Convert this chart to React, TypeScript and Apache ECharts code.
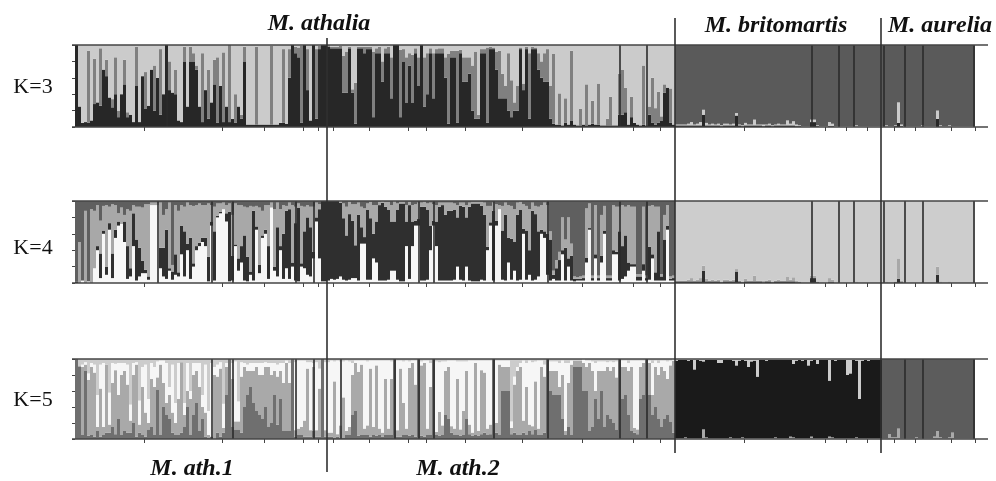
import React, { useEffect, useRef } from "react";
import * as echarts from "echarts";

// K=3, M. athalia part (200 individuals)
const k3Dark = [
  100,25,5,6,5,8,28,30,26,70, 62,36,24,40,12,40,52,12,15,6,
  50,6,62,22,26,70,20,60,15,40, 100,45,42,40,8,6,80,25,80,80,
  70,25,6,45,10,30,52,5,50,6, 25,6,10,5,25,10,80,3,3,3,
  3,3,3,3,3,3,3,3,5,5, 4,60,100,90,85,5,100,45,8,100,
  10,95,100,100,98,96,96,96,96,42, 42,96,42,4,96,96,90,95,95,12,
  90,90,55,90,90,35,100,100,12,80, 30,75,30,90,50,100,25,40,90,35,
  90,90,90,60,4,85,85,5,90,55, 55,65,20,10,10,90,90,5,95,95,
  70,35,35,35,20,12,20,20,95,45, 95,10,95,95,70,60,55,55,10,4,
  3,3,2,5,3,8,3,2,2,3, 2,3,4,3,3,2,2,2,2,2,
  2,15,15,18,3,12,5,3,2,3, 2,15,5,3,5,8,42,48,5,3,
];
const k3Mid = [
  0,0,0,0,88,0,55,0,70,0, 20,0,10,45,8,0,30,6,0,0,
  48,0,0,45,0,0,55,0,80,0, 0,35,0,30,0,0,18,0,18,10,
  5,0,84,0,60,0,30,80,0,85, 0,94,0,35,0,5,18,0,0,0,
  95,0,0,0,0,96,0,0,0,90, 0,35,0,8,12,94,0,50,0,0,
  85,4,0,0,2,2,2,2,3,45, 50,2,4,50,2,2,8,3,3,80,
  6,8,25,6,8,50,0,0,82,15, 55,15,58,6,35,0,60,50,6,55,
  5,6,6,25,85,8,8,88,4,30, 30,20,55,82,5,5,5,92,3,2,
  22,58,30,15,70,45,10,30,2,8, 3,80,3,2,20,20,35,40,40,85,
  0,38,0,30,0,85,0,0,20,0, 50,0,28,0,50,0,0,8,35,0,
  0,50,55,30,0,25,0,0,0,72, 0,10,55,20,38,5,10,0,42,0,
];

// M. britomartis + M. aurelia part (100 individuals), small bottom slivers
const rightDark = [
  2,2,2,2,2,2,2,2,2,15, 2,2,2,2,2,1,2,2,2,2,
  14,2,1,2,2,2,2,2,2,1, 2,2,1,2,2,2,2,2,2,2,
  1,1,0,0,0,6,6,1,0,0, 0,1,1,0,0,0,0,0,0,0,
  0,0,0,0,0,0,0,0,0,0, 0,0,0,1,5,1,0,0,0,0,
  0,0,0,0,0,0,0,10,0,0, 0,0,0,0,0,0,0,0,0,0,
];
const rightSpike = [
  1,1,1,1,2,4,1,2,4,6, 3,1,2,1,2,1,2,2,1,2,
  3,1,1,3,1,1,7,1,1,2, 1,2,1,1,2,1,1,6,2,5,
  2,1,1,1,1,3,3,1,1,1, 1,5,3,1,1,1,1,1,1,1,
  2,1,1,1,1,1,1,1,1,1, 2,1,1,1,25,2,1,1,1,1,
  1,1,2,1,1,1,1,10,2,1, 1,2,1,1,1,1,1,1,1,1,
];

// K=4, M. athalia part
const k4White = [
  0,0,3,0,2,0,18,40,6,60, 10,65,6,55,70,72,50,5,8,45,
  3,8,12,12,4,95,95,95,18,8, 5,15,4,10,8,35,8,40,5,20,
  40,45,50,45,2,70,3,80,85,90, 75,2,3,45,15,25,3,2,10,3,
  65,12,55,60,5,92,15,8,40,5, 18,5,20,3,2,20,18,10,8,30,
  75,30,2,2,3,5,4,5,8,4, 3,4,6,6,3,48,48,4,4,30,
  25,3,3,3,4,15,15,4,2,2, 45,5,45,70,70,3,3,4,40,70,
  45,3,3,3,3,3,4,20,4,3, 20,3,2,2,2,4,3,40,70,3,
  70,90,4,3,25,4,15,3,4,60, 4,10,3,4,8,60,55,10,3,5,
  3,3,35,3,20,3,2,3,3,3, 25,65,3,30,3,25,60,3,3,35,
  35,3,5,8,15,20,20,3,3,15, 3,4,30,3,3,3,3,65,3,3,
];
const k4Dark = [
  2,0,0,0,0,0,0,5,30,4, 10,8,30,10,5,0,25,40,10,40,
  50,35,15,4,4,0,0,0,25,35, 60,3,10,25,5,35,55,8,50,4,
  5,4,5,10,30,5,60,2,2,0, 10,85,30,2,15,20,55,30,4,85,
  4,10,3,5,40,0,5,60,5,55, 70,85,5,70,90,4,45,70,60,8,
  5,60,98,98,97,95,96,95,90,75, 55,80,70,40,80,20,8,85,75,30,
  50,92,95,90,85,60,60,85,95,95, 30,90,30,6,8,90,90,85,30,6,
  30,90,92,80,85,85,85,60,90,90, 60,90,95,95,95,90,80,4,4,85,
  6,0,60,80,30,50,35,80,85,6, 60,30,85,80,55,5,8,50,50,5,
  15,25,5,40,10,30,3,2,2,3, 6,2,3,5,3,8,4,3,3,5,
  3,60,40,50,10,3,3,5,5,8, 3,40,5,10,60,5,50,5,2,3,
];
const k4Light = [
  0,50,0,88,0,90,70,50,40,30, 75,20,60,30,10,20,8,45,70,10,
  40,50,65,80,88,3,3,3,55,40, 25,80,8,60,75,25,30,50,40,70,
  50,48,40,40,65,20,30,15,10,8, 10,10,50,50,65,50,35,60,80,5,
  25,70,30,30,50,6,70,30,45,35, 6,8,70,20,5,70,30,15,25,55,
  18,6,0,0,0,0,0,0,2,18, 35,15,20,50,15,25,35,8,20,35,
  20,4,2,6,10,20,25,8,2,2, 20,4,20,20,20,5,6,8,28,20,
  20,5,3,15,10,10,8,15,4,5, 15,5,2,2,2,5,15,50,20,10,
  20,5,30,15,40,40,40,15,10,30, 30,50,10,10,30,30,35,35,10,5,
  10,10,40,10,50,15,3,2,3,3, 60,30,3,60,3,50,30,3,3,55,
  55,30,50,35,70,70,70,3,3,70, 3,50,60,80,30,3,30,25,3,3,
];

// K=5, M. athalia part
const k5Grey = [
  100,90,5,85,4,5,3,10,3,5, 8,8,15,6,25,5,10,8,8,20,
  3,8,5,3,12,15,5,62,5,40, 30,25,8,5,5,8,15,40,5,30,
  45,10,25,3,2,3,0,8,3,8, 55,100,15,12,12,8,40,55,65,45,
  35,30,25,40,15,20,55,18,50,10, 10,10,100,3,5,5,3,3,3,10,
  3,3,100,3,3,3,2,3,2,2, 5,5,30,35,4,5,5,5,3,5,
  4,5,3,5,5,5,100,3,3,5, 5,4,5,3,100,4,3,5,5,100,
  5,4,5,30,25,8,5,5,4,5, 25,6,4,5,4,6,8,5,6,100,
  8,5,60,60,60,6,8,5,5,8, 5,10,6,12,5,5,8,100,60,55,
  55,55,25,5,15,5,90,90,90,60, 60,10,15,50,25,60,15,30,25,20,
  12,100,50,55,30,10,8,6,50,55, 100,55,30,40,25,15,25,30,22,8,
];
const k5Mid = [
  0,2,85,8,70,85,80,5,60,10, 85,10,55,80,30,75,75,60,15,60,
  90,10,60,30,8,60,60,15,88,30, 15,30,25,15,45,88,15,20,45,50,
  40,55,15,30,3,0,80,70,85,6, 35,0,60,10,10,70,50,30,20,40,
  55,50,55,50,75,60,30,60,35,60, 85,60,0,8,8,10,20,85,8,80,
  8,60,0,8,5,5,70,3,15,50, 5,10,50,60,80,88,8,12,85,10,
  88,8,5,70,8,70,0,8,85,40, 8,85,90,65,0,88,92,8,60,0,
  4,30,12,55,65,8,8,70,8,30, 60,12,4,90,6,80,75,8,12,0,
  12,88,30,30,30,8,60,80,85,15, 60,8,10,60,8,85,70,0,25,30,
  30,10,55,5,55,88,8,8,8,35, 30,85,70,10,60,25,70,60,60,70,
  65,0,40,35,55,80,6,6,40,40, 0,40,25,50,55,75,60,45,70,90,
];
const k5White = [
  0,0,3,3,8,5,10,40,30,80, 0,40,25,8,40,15,10,25,20,15,
  3,30,25,60,30,20,25,20,5,28, 50,10,60,25,45,0,15,35,10,15,
  10,30,15,60,30,92,10,15,8,30, 5,0,20,75,25,18,5,8,10,10,
  5,15,15,6,5,15,10,15,10,25, 3,25,0,85,85,83,75,8,85,5,
  85,25,0,85,88,90,25,92,80,45, 88,82,15,3,14,5,85,80,10,83,
  6,85,90,23,85,22,0,87,10,52, 85,8,3,30,0,5,3,85,30,0,
  88,62,80,12,8,82,85,22,85,62, 12,80,90,3,88,12,15,85,80,0,
  78,5,8,8,8,8,10,5,5,75, 30,80,80,25,85,8,15,0,12,12,
  12,30,18,85,25,5,0,0,0,5, 8,3,12,35,12,12,12,6,12,6,
  20,0,8,8,10,8,84,86,8,3, 0,3,40,8,15,8,13,22,6,2,
];
const k5RightBottom = [
  1,1,1,2,1,1,1,1,1,12, 2,1,1,1,1,1,1,1,2,1,
  1,1,2,1,1,1,1,1,1,1, 1,1,1,2,1,1,1,1,3,2,
  1,1,1,1,1,3,1,1,1,1, 1,3,2,1,1,1,1,1,1,1,
  2,1,1,1,1,1,1,1,1,1, 1,6,2,2,13,1,1,1,1,1,
  2,1,1,1,1,1,3,10,2,1, 1,2,8,1,1,1,1,1,1,1,
];
const k5RightTop = [
  2,1,1,1,2,1,13,1,2,3, 1,1,1,1,5,5,1,1,1,2,
  8,2,1,2,10,3,2,22,1,1, 2,1,1,1,1,1,1,1,1,6,
  2,1,2,1,8,2,1,6,1,1, 1,27,1,2,1,1,1,20,18,1,
  2,50,2,1,2,1,1,1,1,0, 0,0,0,0,0,0,0,0,0,0,
  0,0,0,0,0,0,0,0,0,0, 0,0,0,0,0,0,0,0,0,0,
];

// Individuals; axis ticks and population boundaries, as individual indices
const individuals = Array.from({ length: 300 }, (_, i) => String(i + 1));
const tickIndices = [23,49,63,76,81,86,98,111,117,130,149,169,186,195,223,250,257,264,273,280,292];
const k3Seps = [30,181,190,245,254,259,269,276,282,299];
const k4Seps = [27,45,52,73,79,114,119,139,157,181,190,245,254,259,269,276,282,299];
const k5Seps = [45,52,73,79,88,106,114,119,139,157,181,190,276,282,299];

const zeros = (n: number) => new Array(n).fill(0);
const rest = (...arrs: number[][]) =>
  arrs[0].map((_, i) => Math.max(0, 100 - arrs.reduce((s, a) => s + a[i], 0)));

const sepLine = (seps: number[]) => ({
  silent: true,
  symbol: "none",
  animation: false,
  label: { show: false },
  lineStyle: { color: "#2b2b2b", width: 1.6, type: "solid" },
  data: seps.map((xAxis) => ({ xAxis })),
});

const bar = (g: number, color: string, data: number[], seps?: number[]) => ({
  type: "bar",
  stack: "k" + g,
  xAxisIndex: g,
  yAxisIndex: g,
  barWidth: "100%",
  silent: true,
  itemStyle: { color, borderWidth: 0 },
  data: data.map((v) => (v > 0 ? v : null)),
  ...(seps ? { markLine: sepLine(seps) } : {}),
});

const PANELS = [
  { top: 45, height: 82, label: "K=3" },
  { top: 201, height: 82, label: "K=4" },
  { top: 359, height: 80, label: "K=5" },
];

const serif = "'Liberation Serif', 'Times New Roman', serif";

export default function App() {
  const ref = useRef<HTMLDivElement>(null);
  useEffect(() => {
    document.body.style.margin = "0";
    const chart = echarts.init(ref.current!, undefined, { renderer: "svg" });
    // a plot width of exactly 3px per individual keeps every bar on whole pixels
    const L = 75, W = 900;
    const z2 = zeros(200), z1 = zeros(100);

    const series = [
      // K=3
      bar(0, "#272727", [...k3Dark, ...rightDark], k3Seps),
      bar(0, "#808080", [...k3Mid, ...z1]),
      bar(0, "#cbcbcb", [...rest(k3Dark, k3Mid), ...rightSpike]),
      bar(0, "#5a5a5a", [...z2, ...rest(rightDark, rightSpike)]),
      // K=4
      bar(1, "#f7f7f7", [...k4White, ...z1], k4Seps),
      bar(1, "#2f2f2f", [...k4Dark, ...rightDark]),
      bar(1, "#a8a8a8", [...k4Light, ...rightSpike]),
      bar(1, "#5f5f5f", [...rest(k4White, k4Dark, k4Light), ...z1]),
      bar(1, "#cdcdcd", [...z2, ...rest(rightDark, rightSpike)]),
      // K=5
      bar(2, "#6f6f6f", [...k5Grey, ...z1], k5Seps),
      bar(2, "#a9a9a9", [...k5Mid, ...k5RightBottom]),
      bar(2, "#f6f6f6", [...k5White, ...z1]),
      bar(2, "#1a1a1a", [...z2, ...rest(k5RightBottom, k5RightTop).slice(0, 69), ...zeros(31)]),
      bar(2, "#5c5c5c", [...z2, ...zeros(69), ...rest(k5RightBottom, k5RightTop).slice(69)]),
      bar(2, "#cccccc", [...rest(k5Grey, k5Mid, k5White), ...k5RightTop]),
    ];

    const hLines = PANELS.flatMap((p) => [p.top, p.top + p.height]).map((y) => ({
      type: "line",
      z: 50,
      shape: { x1: 72, y1: y, x2: 988, y2: y },
      style: { stroke: "#444444", lineWidth: 1.5 },
    }));
    const vLines = [
      { x: 327, y1: 38, y2: 472 },
      { x: 675, y1: 18, y2: 453 },
      { x: 881, y1: 18, y2: 453 },
    ].map((l) => ({
      type: "line",
      z: 60,
      shape: { x1: l.x, y1: l.y1, x2: l.x, y2: l.y2 },
      style: { stroke: "#303030", lineWidth: 1.6 },
    }));
    const txt = (text: string, x: number, y: number, bold: boolean, size: number) => ({
      type: "text",
      z: 70,
      x,
      y,
      style: {
        text,
        x: 0,
        y: 0,
        textAlign: "center",
        textVerticalAlign: "middle",
        fill: "#111",
        font: `${bold ? "italic bold " : ""}${size}px ${serif}`,
      },
    });

    chart.setOption({
      animation: false,
      backgroundColor: "#ffffff",
      grid: PANELS.map((p) => ({ left: L, width: W, top: p.top, height: p.height })),
      xAxis: PANELS.map((_, i) => ({
        type: "category",
        gridIndex: i,
        data: individuals,
        axisLabel: { show: false },
        axisLine: { show: false },
        axisTick: {
          show: true,
          length: 4,
          customValues: tickIndices,
          lineStyle: { color: "#444", width: 1 },
        },
      })),
      yAxis: PANELS.map((_, i) => ({
        type: "value",
        gridIndex: i,
        min: 0,
        max: 100,
        interval: 20,
        axisLabel: { show: false },
        splitLine: { show: false },
        axisLine: { show: false },
        axisTick: { show: true, length: 3, lineStyle: { color: "#444", width: 1 } },
      })),
      series,
      graphic: [
        ...hLines,
        ...vLines,
        txt("M. athalia", 319, 22, true, 24),
        txt("M. britomartis", 776, 24, true, 24),
        txt("M. aurelia", 940, 24, true, 24),
        txt("M. ath.1", 192, 467, true, 24),
        txt("M. ath.2", 458, 467, true, 24),
        ...PANELS.map((p, i) => txt(p.label, 33, [85, 246, 398][i], false, 22)),
      ],
    });
    return () => chart.dispose();
  }, []);
  return (
    <div
      ref={ref}
      style={{ position: "absolute", left: 0, top: 0, width: 996, height: 481, filter: "blur(0.45px)" }}
    />
  );
}
